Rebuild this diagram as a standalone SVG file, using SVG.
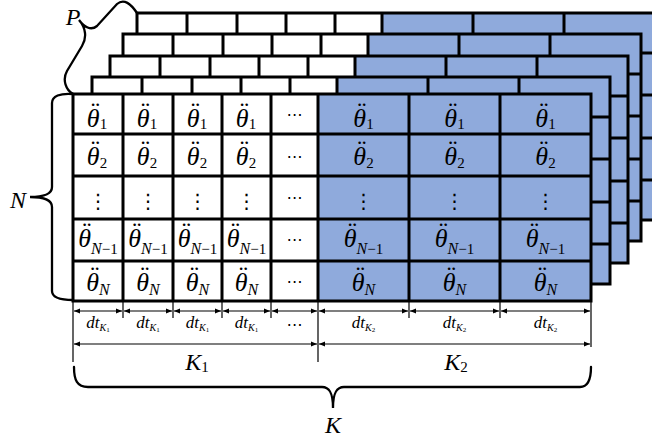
<svg xmlns="http://www.w3.org/2000/svg" width="652" height="440" viewBox="0 0 652 440">
<style>
.m{font-family:"Liberation Serif",serif;font-style:italic;font-size:24px;text-anchor:middle;fill:#000}
.t{font-size:26px}
.s{font-size:16px}
.d{font-style:normal;font-size:15px}
.dots{font-family:"DejaVu Sans",sans-serif;font-size:16px;text-anchor:middle}
.vd{font-family:"DejaVu Sans",sans-serif;font-size:20px;text-anchor:middle}
.dt{font-family:"Liberation Serif",serif;font-style:italic;font-size:17px;text-anchor:middle}
.sk{font-size:10px}
.ss{font-size:7px;font-style:normal}
.dim{stroke:#000;stroke-width:1.2;fill:none}
.arr{stroke:#000;stroke-width:1.2;fill:none;marker-start:url(#ar);marker-end:url(#ar)}
.br{stroke:#000;stroke-width:2.3;fill:none;stroke-linecap:round}
</style>
<defs>
<marker id="ar" viewBox="0 0 6 6" refX="6" refY="3" markerWidth="6" markerHeight="6" orient="auto-start-reverse" markerUnits="userSpaceOnUse"><path d="M0,0.6L6,3L0,5.4Z" fill="#000"/></marker>
<g id="grid">
<rect x="73" y="94" width="245" height="207" fill="#fff"/>
<rect x="318" y="94" width="273" height="207" fill="#8faadc"/>
<path d="M73,94H591V301H73Z M123,94V301 M173,94V301 M222,94V301 M271,94V301 M318,94V301 M409,94V301 M500,94V301 M73,134H591 M73,176H591 M73,219H591 M73,261H591" fill="none" stroke="#000" stroke-width="3" stroke-linejoin="miter"/>
</g>
</defs>
<g id="layers">
<use href="#grid" transform="translate(64,-81)"/>
<use href="#grid" transform="translate(50,-60)"/>
<use href="#grid" transform="translate(37,-38)"/>
<use href="#grid" transform="translate(19,-17)"/>
<use href="#grid"/>
</g>
<g id="row1">
<text class="m t" x="97" y="127">θ<tspan dx="-10.4" dy="-7.5">¨</tspan><tspan class="d" dx="1.7" dy="9.5">1</tspan></text>
<text class="m t" x="147" y="127">θ<tspan dx="-10.4" dy="-7.5">¨</tspan><tspan class="d" dx="1.7" dy="9.5">1</tspan></text>
<text class="m t" x="197" y="127">θ<tspan dx="-10.4" dy="-7.5">¨</tspan><tspan class="d" dx="1.7" dy="9.5">1</tspan></text>
<text class="m t" x="246" y="127">θ<tspan dx="-10.4" dy="-7.5">¨</tspan><tspan class="d" dx="1.7" dy="9.5">1</tspan></text>
<text class="dots" x="294.5" y="120">⋯</text>
<text class="m t" x="363.5" y="127">θ<tspan dx="-10.4" dy="-7.5">¨</tspan><tspan class="d" dx="1.7" dy="9.5">1</tspan></text>
<text class="m t" x="454.5" y="127">θ<tspan dx="-10.4" dy="-7.5">¨</tspan><tspan class="d" dx="1.7" dy="9.5">1</tspan></text>
<text class="m t" x="545.5" y="127">θ<tspan dx="-10.4" dy="-7.5">¨</tspan><tspan class="d" dx="1.7" dy="9.5">1</tspan></text>
</g>
<g id="row2">
<text class="m t" x="97" y="165">θ<tspan dx="-10.4" dy="-7.5">¨</tspan><tspan class="d" dx="1.7" dy="10.5">2</tspan></text>
<text class="m t" x="147" y="165">θ<tspan dx="-10.4" dy="-7.5">¨</tspan><tspan class="d" dx="1.7" dy="10.5">2</tspan></text>
<text class="m t" x="197" y="165">θ<tspan dx="-10.4" dy="-7.5">¨</tspan><tspan class="d" dx="1.7" dy="10.5">2</tspan></text>
<text class="m t" x="246" y="165">θ<tspan dx="-10.4" dy="-7.5">¨</tspan><tspan class="d" dx="1.7" dy="10.5">2</tspan></text>
<text class="dots" x="294.5" y="162">⋯</text>
<text class="m t" x="363.5" y="165">θ<tspan dx="-10.4" dy="-7.5">¨</tspan><tspan class="d" dx="1.7" dy="10.5">2</tspan></text>
<text class="m t" x="454.5" y="165">θ<tspan dx="-10.4" dy="-7.5">¨</tspan><tspan class="d" dx="1.7" dy="10.5">2</tspan></text>
<text class="m t" x="545.5" y="165">θ<tspan dx="-10.4" dy="-7.5">¨</tspan><tspan class="d" dx="1.7" dy="10.5">2</tspan></text>
</g>
<g id="row3">
<text class="vd" x="98" y="208">⋮</text>
<text class="vd" x="148" y="208">⋮</text>
<text class="vd" x="197.5" y="208">⋮</text>
<text class="vd" x="246.5" y="208">⋮</text>
<text class="dots" x="294.5" y="203">⋯</text>
<text class="vd" x="363.5" y="208">⋮</text>
<text class="vd" x="454.5" y="208">⋮</text>
<text class="vd" x="545.5" y="208">⋮</text>
</g>
<g id="row4">
<text class="m t" x="98" y="247">θ<tspan dx="-10.4" dy="-7.5">¨</tspan><tspan class="s" dx="1.7" dy="14.5">N</tspan><tspan class="d" font-size="16">−1</tspan></text>
<text class="m t" x="148" y="247">θ<tspan dx="-10.4" dy="-7.5">¨</tspan><tspan class="s" dx="1.7" dy="14.5">N</tspan><tspan class="d" font-size="16">−1</tspan></text>
<text class="m t" x="197.5" y="247">θ<tspan dx="-10.4" dy="-7.5">¨</tspan><tspan class="s" dx="1.7" dy="14.5">N</tspan><tspan class="d" font-size="16">−1</tspan></text>
<text class="m t" x="246.5" y="247">θ<tspan dx="-10.4" dy="-7.5">¨</tspan><tspan class="s" dx="1.7" dy="14.5">N</tspan><tspan class="d" font-size="16">−1</tspan></text>
<text class="dots" x="294.5" y="245">⋯</text>
<text class="m t" x="363.5" y="247">θ<tspan dx="-10.4" dy="-7.5">¨</tspan><tspan class="s" dx="1.7" dy="14.5">N</tspan><tspan class="d" font-size="16">−1</tspan></text>
<text class="m t" x="454.5" y="247">θ<tspan dx="-10.4" dy="-7.5">¨</tspan><tspan class="s" dx="1.7" dy="14.5">N</tspan><tspan class="d" font-size="16">−1</tspan></text>
<text class="m t" x="545.5" y="247">θ<tspan dx="-10.4" dy="-7.5">¨</tspan><tspan class="s" dx="1.7" dy="14.5">N</tspan><tspan class="d" font-size="16">−1</tspan></text>
</g>
<g id="row5">
<text class="m t" x="98" y="291">θ<tspan dx="-10.4" dy="-7.5">¨</tspan><tspan class="s" dx="1.7" dy="11.5">N</tspan></text>
<text class="m t" x="148" y="291">θ<tspan dx="-10.4" dy="-7.5">¨</tspan><tspan class="s" dx="1.7" dy="11.5">N</tspan></text>
<text class="m t" x="197.5" y="291">θ<tspan dx="-10.4" dy="-7.5">¨</tspan><tspan class="s" dx="1.7" dy="11.5">N</tspan></text>
<text class="m t" x="246.5" y="291">θ<tspan dx="-10.4" dy="-7.5">¨</tspan><tspan class="s" dx="1.7" dy="11.5">N</tspan></text>
<text class="dots" x="294.5" y="287">⋯</text>
<text class="m t" x="363.5" y="291">θ<tspan dx="-10.4" dy="-7.5">¨</tspan><tspan class="s" dx="1.7" dy="11.5">N</tspan></text>
<text class="m t" x="454.5" y="291">θ<tspan dx="-10.4" dy="-7.5">¨</tspan><tspan class="s" dx="1.7" dy="11.5">N</tspan></text>
<text class="m t" x="545.5" y="291">θ<tspan dx="-10.4" dy="-7.5">¨</tspan><tspan class="s" dx="1.7" dy="11.5">N</tspan></text>
</g>
<g id="connectors">
<path class="dim" d="M73,302V362 M318,302V362 M591,302V347 M123,302V318 M173,302V318 M222,302V318 M271,302V318 M409,302V318 M500,302V318"/>
<line class="arr" x1="74" y1="311" x2="122" y2="311"/>
<line class="arr" x1="124" y1="311" x2="172" y2="311"/>
<line class="arr" x1="174" y1="311" x2="221" y2="311"/>
<line class="arr" x1="223" y1="311" x2="270" y2="311"/>
<line class="arr" x1="272" y1="311" x2="317" y2="311"/>
<line class="arr" x1="319" y1="311" x2="408" y2="311"/>
<line class="arr" x1="410" y1="311" x2="499" y2="311"/>
<line class="arr" x1="501" y1="311" x2="590" y2="311"/>
<line class="arr" x1="74" y1="344" x2="317" y2="344"/>
<line class="arr" x1="319" y1="344" x2="590" y2="344"/>
</g>
<g id="dims">
<text class="dt" x="98" y="328">dt<tspan class="sk" dy="3">K</tspan><tspan class="ss" dy="1">1</tspan></text>
<text class="dt" x="148" y="328">dt<tspan class="sk" dy="3">K</tspan><tspan class="ss" dy="1">1</tspan></text>
<text class="dt" x="197.5" y="328">dt<tspan class="sk" dy="3">K</tspan><tspan class="ss" dy="1">1</tspan></text>
<text class="dt" x="246.5" y="328">dt<tspan class="sk" dy="3">K</tspan><tspan class="ss" dy="1">1</tspan></text>
<text class="dots" x="294.5" y="330">⋯</text>
<text class="dt" x="363.5" y="328">dt<tspan class="sk" dy="3">K</tspan><tspan class="ss" dy="1">2</tspan></text>
<text class="dt" x="454.5" y="328">dt<tspan class="sk" dy="3">K</tspan><tspan class="ss" dy="1">2</tspan></text>
<text class="dt" x="545.5" y="328">dt<tspan class="sk" dy="3">K</tspan><tspan class="ss" dy="1">2</tspan></text>
<text class="m" x="197" y="370">K<tspan class="d" dy="2">1</tspan></text>
<text class="m" x="456" y="370">K<tspan class="d" dy="2">2</tspan></text>
</g>
<g id="braces">
<path class="br" d="M73,94C66,90 62,80 67,71L82,46C87,38 86,28 79,20C84,27 91,31 97,26L117,4C124,-2 131,4 137,13"/>
<text class="m" x="73" y="25">P</text>
<path class="br" d="M73,94C60,93 52,96 52,103L52,187C52,194 44,197 30,197C44,197 52,200 52,207L52,291C52,298 60,300 73,300"/>
<text class="m" x="18" y="208">N</text>
<path class="br" d="M74,367C74,380 77,387 88,387L322,387C329,387 333,392 333,408C333,392 337,387 344,387L580,387C587,387 591,381 591,367"/>
<text class="m" x="333" y="433">K</text>
</g>
</svg>
